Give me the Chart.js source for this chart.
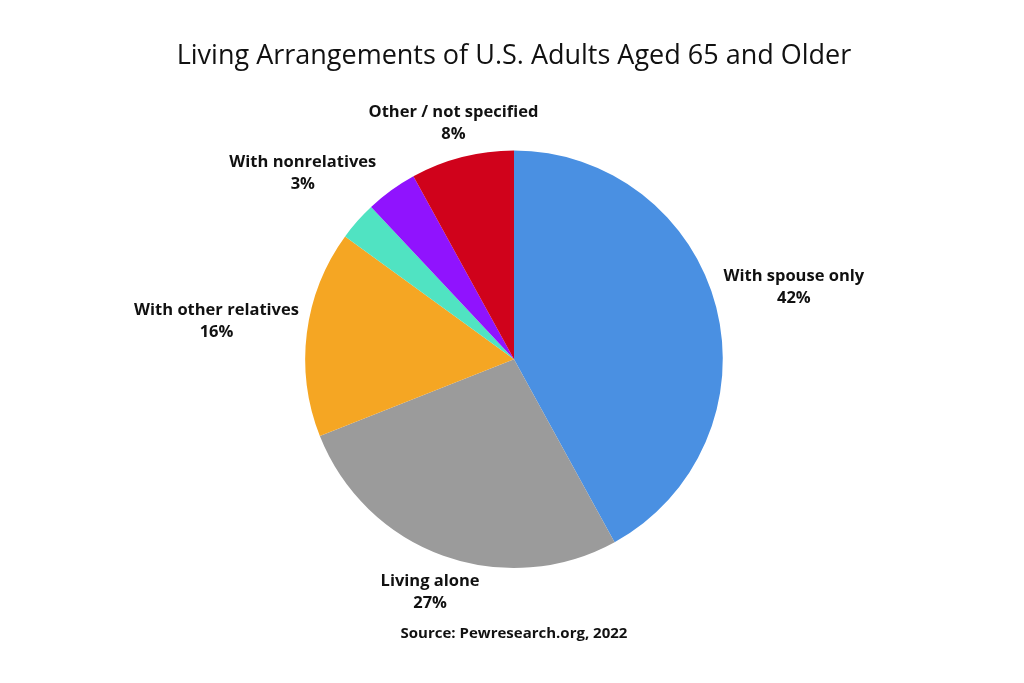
<!DOCTYPE html>
<html>
<head>
<meta charset="utf-8">
<script src="https://cdn.jsdelivr.net/npm/chart.js@4.4.0/dist/chart.umd.min.js"></script>
<style>
  html, body { margin: 0; padding: 0; background: #fff; }
  #wrap { width: 1024px; height: 683px; }
</style>
</head>
<body>
<div id="wrap"><canvas id="pieChart"></canvas></div>
<script>
// Datos del gráfico
const categorias = ['With spouse only', 'Living alone', 'With other relatives', 'With nonrelatives', 'Other arrangements', 'Other / not specified'];
const porcentajes = [42, 27, 16, 3, 4, 8];
const colores = ['#4A90E2', '#9B9B9B', '#F5A623', '#50E3C2', '#9013FE', '#D0021B'];
// la porción morada no lleva etiqueta en el original
const mostrarEtiqueta = [true, true, true, true, false, true];

const titulo = 'Living Arrangements of U.S. Adults Aged 65 and Older';
const fuente = 'Source: Pewresearch.org, 2022';

// Distancia mínima entre el centro del pastel y una caja centrada en (bx, by)
function distanciaCaja(bx, by, medioAncho, medioAlto) {
    const dx = Math.max(Math.abs(bx) - medioAncho, 0);
    const dy = Math.max(Math.abs(by) - medioAlto, 0);
    return Math.hypot(dx, dy);
}

// Plugin para dibujar las etiquetas fuera de cada porción
const etiquetasFuera = {
    id: 'etiquetasFuera',
    afterDatasetsDraw(chart) {
        const ctx = chart.ctx;
        const meta = chart.getDatasetMeta(0);
        ctx.save();
        ctx.font = 'bold 16.5px "Open Sans"';
        ctx.fillStyle = '#111';
        ctx.textAlign = 'center';
        ctx.textBaseline = 'middle';
        const lineaAlto = 22;
        const separacion = 7;
        meta.data.forEach((arc, i) => {
            if (!mostrarEtiqueta[i]) return;
            const p = arc.getProps(['x', 'y', 'startAngle', 'endAngle', 'outerRadius'], true);
            const medio = (p.startAngle + p.endAngle) / 2;
            const lineas = [categorias[i], porcentajes[i] + '%'];
            const medioAncho = Math.max(...lineas.map(l => ctx.measureText(l).width)) / 2;
            const medioAlto = 20;
            const c = Math.cos(medio), s = Math.sin(medio);
            // búsqueda binaria de la distancia para que la caja no toque el pastel
            let lo = 0, hi = p.outerRadius + 300;
            for (let k = 0; k < 40; k++) {
                const d = (lo + hi) / 2;
                if (distanciaCaja(d * c, d * s, medioAncho, medioAlto) < p.outerRadius + separacion) lo = d;
                else hi = d;
            }
            const cx = p.x + hi * c;
            const cy = p.y + hi * s;
            ctx.fillText(lineas[0], cx, cy - lineaAlto / 2);
            ctx.fillText(lineas[1], cx, cy + lineaAlto / 2);
        });
        ctx.restore();
    }
};

new Chart(document.getElementById('pieChart').getContext('2d'), {
    type: 'pie',
    data: {
        labels: categorias,
        datasets: [{
            data: porcentajes,
            backgroundColor: colores,
            borderWidth: 0
        }]
    },
    options: {
        responsive: true,
        maintainAspectRatio: false,
        animation: false,
        layout: { padding: { left: 4 } },
        plugins: {
            legend: { display: false },
            tooltip: { enabled: false },
            title: {
                display: true,
                text: titulo,
                color: '#111',
                font: { family: 'Open Sans', size: 27, weight: 'normal' },
                padding: { top: 40, bottom: 78 }
            },
            subtitle: {
                display: true,
                position: 'bottom',
                text: fuente,
                color: '#111',
                font: { family: 'Open Sans', size: 15, weight: 'bold' },
                padding: { top: 57, bottom: 40 }
            }
        }
    },
    plugins: [etiquetasFuera]
});
</script>
</body>
</html>
